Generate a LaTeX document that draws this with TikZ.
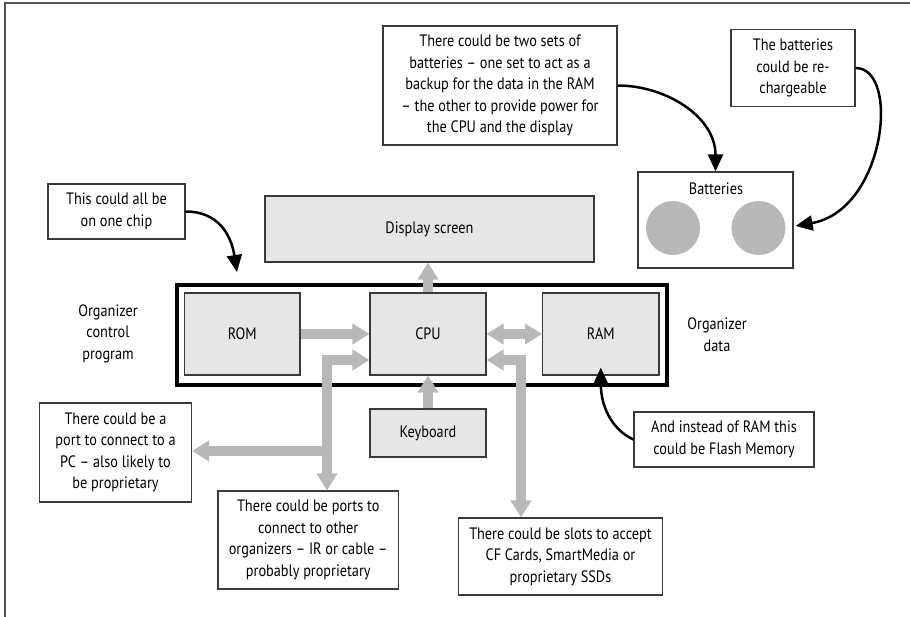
\documentclass[tikz,border=0pt]{standalone}
\usepackage{fontspec}
\setmainfont{PT Sans}[FakeStretch=0.865]
\usetikzlibrary{arrows.meta,calc}
\definecolor{boxfill}{HTML}{E6E6E6}
\definecolor{arrowgray}{HTML}{B8B8B8}
\definecolor{edge}{HTML}{3A3A3A}
\definecolor{framecol}{HTML}{555555}
\tikzset{
  gtip/.tip={Triangle[width=20pt,length=17pt]},
  btip/.tip={Triangle[width=15pt,length=17pt]},
}
\begin{document}
\begin{tikzpicture}[x=1pt,y=-1pt,
  font=\fontsize{16.5}{21.5}\selectfont,
  note/.style={draw=edge, line width=1.2pt, fill=white, align=center, inner sep=0pt},
  part/.style={draw=edge, line width=1.2pt, fill=boxfill, align=center, inner sep=0pt},
  plain/.style={align=center, inner sep=0pt},
  garrow/.style={draw=arrowgray, line width=10pt, line join=miter},
  barrow/.style={draw=black, line width=2.5pt, -btip},
  cell/.style={circle, fill=arrowgray, minimum size=54pt, inner sep=0pt},
]
\useasboundingbox (0,0) rectangle (910,617);
% outer frame
\coordinate (fbl) at (5,617);
\coordinate (ftl) at (5,3);
\coordinate (ftr) at (910,3);
\draw[framecol, line width=1.5pt] (fbl) -- (ftl) -- (ftr);

% notes
\node[note, minimum width=234pt, minimum height=119pt] (topnote) at (500,85.5)
  {There could be two sets of\\batteries – one set to act as a\\backup for the data in the RAM\\– the other to provide power for\\the CPU and the display};
\node[note, minimum width=124pt, minimum height=76.5pt] (recharge) at (793,68)
  {The batteries\\could be re-\\chargeable};
\node[note, minimum width=137pt, minimum height=55pt] (chip) at (116.5,211.5)
  {This could all be\\on one chip};
\node[note, minimum width=152pt, minimum height=99pt] (pc) at (115.5,452.5)
  {There could be a\\port to connect to a\\PC – also likely to\\be proprietary};
\node[note, minimum width=180.5pt, minimum height=98pt] (ports) at (308.25,540)
  {There could be ports to\\connect to other\\organizers – IR or cable –\\probably proprietary};
\node[note, minimum width=204pt, minimum height=77pt] (slots) at (560.5,556.5)
  {There could be slots to accept\\CF Cards, SmartMedia or\\proprietary SSDs};
\node[note, minimum width=180pt, minimum height=55pt] (flash) at (724,439.5)
  {And instead of RAM this\\could be Flash Memory};

% batteries
\node[note, minimum width=155pt, minimum height=96pt] (batt) at (715.5,220) {};
\node[plain] (battlabel) at (716,189) {Batteries};
\node[cell] (cell1) at (673,228) {};
\node[cell] (cell2) at (758.5,228) {};

% parts
\node[part, minimum width=329pt, minimum height=66pt] (disp) at (429.5,229) {Display screen};
\node[draw=black, line width=3.3pt, minimum width=490pt, minimum height=100pt, inner sep=0pt] (org) at (422,335) {};
\node[part, minimum width=115.5pt, minimum height=82pt] (rom) at (242.25,334) {ROM};
\node[part, minimum width=116pt, minimum height=82pt] (cpu) at (428,334) {CPU};
\node[part, minimum width=116.4pt, minimum height=82pt] (ram) at (600.8,334) {RAM};
\node[part, minimum width=116pt, minimum height=48pt] (kb) at (428,433) {Keyboard};

\node[plain] (ctrl) at (108,333.5) {Organizer\\control\\program};
\node[plain] (data) at (717,334.5) {Organizer\\data};

% gray data arrows
\coordinate (j1) at (327,360);
\coordinate (j2) at (327,451);
\coordinate (j3) at (521,360);
\draw[garrow, -gtip] (rom.east) -- (cpu.west);
\draw[garrow, gtip-gtip] (cpu.east) -- (ram.west);
\draw[garrow, -gtip] (cpu.north) -- (cpu.north |- disp.south);
\draw[garrow, -gtip] (kb.north) -- (cpu.south);
\draw[garrow, gtip-gtip] (j1 -| cpu.west) -- (j1) -- (j1 |- ports.north);
\draw[garrow, -gtip] (j2) -- (j2 -| pc.east);
\draw[garrow, gtip-gtip] (j3 -| cpu.east) -- (j3) -- (j3 |- slots.north);

% black comment arrows
\coordinate (chipend) at (237,272);
\coordinate (flashend) at ($(ram.south)+(0,-8)$);
\coordinate (rechend) at ($(batt.east)+(2,6)$);
\draw[barrow] (chip.east) .. controls ($(chip.east)+(32,0)$) and ($(chipend)+(-6,-38)$) .. (chipend);
\draw[barrow] (topnote.east) .. controls ($(topnote.east)+(48,0)$) and ($(batt.north)+(0,-55)$) .. (batt.north);
\draw[barrow] (recharge.east) .. controls ($(recharge.east)+(45,0)$) and ($(rechend)+(90,-16)$) .. (rechend);
\draw[barrow] (flash.west) .. controls ($(flash.west)+(-22,-10)$) and ($(flashend)+(0,38)$) .. (flashend);
\end{tikzpicture}
\end{document}
